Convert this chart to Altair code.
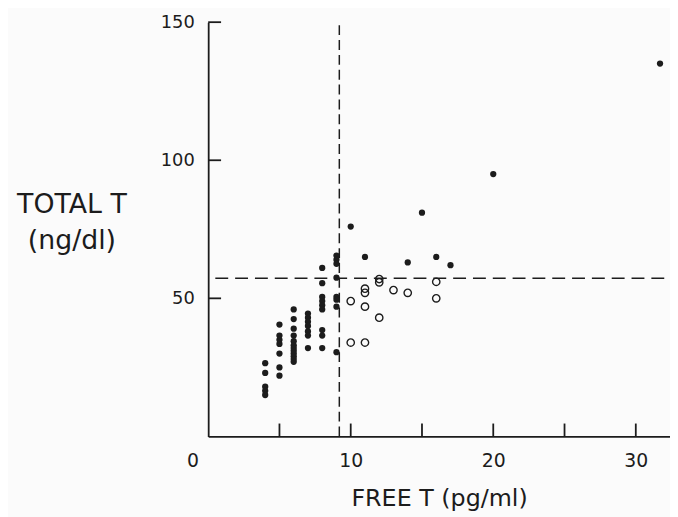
import altair as alt
import pandas as pd

# Filled circles (FREE T pg/ml, TOTAL T ng/dl)
filled_x = [4, 4, 4, 4, 4,
            5, 5, 5, 5, 5, 5, 5,
            6, 6, 6, 6, 6, 6, 6, 6, 6, 6, 6, 6,
            7, 7, 7, 7, 7, 7, 7,
            8, 8, 8, 8, 8, 8, 8, 8, 8,
            9, 9, 9, 9, 9, 9, 9, 9,
            10, 11, 14, 15, 16, 17, 20, 31.7]
filled_y = [26.5, 23, 18, 16.5, 15,
            40.5, 36.5, 35, 33.5, 30, 25, 22,
            46, 42.5, 39, 36.5, 34.5, 33, 32, 31, 30, 29, 28, 27,
            44.5, 43, 41.5, 40, 38, 36.5, 32,
            61, 55.5, 50.5, 49, 47.5, 46, 38.5, 36.5, 32,
            65.5, 64, 62.5, 57.5, 50.5, 49.5, 47, 30.5,
            76, 65, 63, 81, 65, 62, 95, 135]

# Open circles
open_x = [10, 10, 11, 11, 11, 11, 12, 12, 12, 13, 14, 16, 16]
open_y = [49, 34, 53.5, 52, 47, 34, 57, 55.8, 43, 53, 52, 56, 50]

x_tick_values = [5, 10, 15, 20, 25, 30]
x_label_values = [0, 10, 20, 30]
y_tick_values = [50, 100, 150]
free_t_cutoff = 9.2
total_t_cutoff = 57.3

INK = "#1c1c1c"
FONT = "DejaVu Sans"

filled = pd.DataFrame({"x": filled_x, "y": filled_y})
opened = pd.DataFrame({"x": open_x, "y": open_y})
vline = pd.DataFrame({"x": [free_t_cutoff], "y": [0], "y2": [150]})
hline = pd.DataFrame({"y": [total_t_cutoff], "x": [0.5], "x2": [32]})
xt = pd.DataFrame({"x": x_tick_values})
yt = pd.DataFrame({"y": y_tick_values})

xscale = alt.Scale(domain=[0, 32.4], nice=False, zero=False)
yscale = alt.Scale(domain=[0, 150], nice=False, zero=False)

x_axis = alt.Axis(
    values=x_label_values, ticks=False, tickSize=0, grid=False,
    domainColor=INK, domainWidth=1.8,
    labelFont=FONT, labelFontSize=19, labelColor=INK, labelPadding=15,
    labelOffset={"condition": {"test": "datum.value === 0", "value": -22}, "value": 0},
    title="FREE T (pg/ml)", titleFont=FONT, titleFontSize=24, titleFontWeight="normal",
    titleColor=INK, titleY=70, titleBaseline="alphabetic",
)
y_axis = alt.Axis(
    values=y_tick_values, ticks=False, tickSize=0, grid=False,
    domainColor=INK, domainWidth=1.8,
    labelFont=FONT, labelFontSize=18, labelColor=INK, labelPadding=14,
    title=["TOTAL T", "(ng/dl)"], titleFont=FONT, titleFontSize=27,
    titleFontWeight="normal", titleColor=INK, titleAngle=0,
    titleAlign="center", titleBaseline="top", titleX=-138, titleY=171,
    titleLineHeight=36,
)

pts_filled = alt.Chart(filled).mark_point(
    filled=True, shape="circle", size=40, color=INK, opacity=1
).encode(
    x=alt.X("x:Q", scale=xscale, axis=x_axis),
    y=alt.Y("y:Q", scale=yscale, axis=y_axis),
)

pts_open = alt.Chart(opened).mark_point(
    filled=False, shape="circle", size=55, color=INK, strokeWidth=1.4, opacity=1
).encode(
    x=alt.X("x:Q", scale=xscale),
    y=alt.Y("y:Q", scale=yscale),
)

vrule = alt.Chart(vline).mark_rule(
    color=INK, strokeWidth=1.5, strokeDash=[10, 5]
).encode(
    x=alt.X("x:Q", scale=xscale),
    y=alt.Y("y:Q", scale=yscale),
    y2="y2:Q",
)

hrule = alt.Chart(hline).mark_rule(
    color=INK, strokeWidth=1.5, strokeDash=[13, 7]
).encode(
    y=alt.Y("y:Q", scale=yscale),
    x=alt.X("x:Q", scale=xscale),
    x2="x2:Q",
)

xticks = alt.Chart(xt).mark_rule(color=INK, strokeWidth=1.8).encode(
    x=alt.X("x:Q", scale=xscale),
    y=alt.value(418),
    y2=alt.value(405),
)

yticks = alt.Chart(yt).mark_rule(color=INK, strokeWidth=1.8).encode(
    y=alt.Y("y:Q", scale=yscale),
    x=alt.value(0),
    x2=alt.value(13),
)

chart = alt.layer(
    vrule, hrule, xticks, yticks, pts_open, pts_filled
).properties(
    width=466,
    height=418,
    autosize="none",
    padding={"left": 202, "top": 12, "right": 0, "bottom": 79},
    background="#fbfbfb",
).configure_view(stroke=None)

chart.save("out.html", embed_options={"renderer": "svg", "actions": False})
